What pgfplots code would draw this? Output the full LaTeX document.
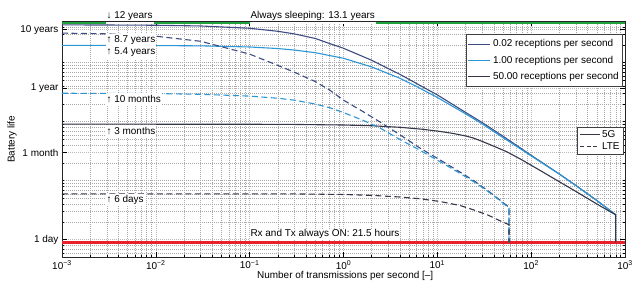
\documentclass[border=0pt]{standalone}
\usepackage{pgfplots}
\pgfplotsset{compat=1.18}
\usepackage{fontspec}
\setmainfont{Liberation Sans}
\definecolor{cnavy}{HTML}{3C4C80}
\definecolor{cblue}{HTML}{2B96D6}
\definecolor{cdark}{HTML}{35374A}
\definecolor{cgreen}{HTML}{1EA33C}
\definecolor{cred}{HTML}{E8202A}
\definecolor{cgrid}{HTML}{A8A8A8}

\begin{document}
\fontsize{10}{11}\selectfont
\begin{tikzpicture}
\begin{axis}[
  at={(0,0)}, anchor=south west,
  scale only axis, width=563bp, height=235.5bp,
  xmode=log, ymode=log,
  xmin=1e-3, xmax=1e3, ymin=0.51, ymax=5000,
  xtick={1e-3,1e-2,1e-1,1,10,100,1000},
  xticklabels={10\textsuperscript{−3},10\textsuperscript{−2},10\textsuperscript{−1},10\textsuperscript{0},10\textsuperscript{1},10\textsuperscript{2},10\textsuperscript{3}},
  minor xtick={2e-3,3e-3,4e-3,5e-3,6e-3,7e-3,8e-3,9e-3,2e-2,3e-2,4e-2,5e-2,6e-2,7e-2,8e-2,9e-2,0.2,0.3,0.4,0.5,0.6,0.7,0.8,0.9,2,3,4,5,6,7,8,9,20,30,40,50,60,70,80,90,200,300,400,500,600,700,800,900},
  ytick={1,30,365,3650},
  yticklabels={1 day,1 month,1 year,10 years},
  minor ytick={0.6,0.7,0.8,0.9,2,3,4,5,6,7,8,9,10,20,30,40,50,60,70,80,90,100,200,300,400,500,600,700,800,900,1000,2000,3000,4000,5000},
  grid=both,
  major grid style={dash pattern=on 0.6bp off 1.4bp, cgrid!110!black, line width=0.5pt},
  minor grid style={dash pattern=on 0.6bp off 1.4bp, cgrid, line width=0.5pt},
  tick align=inside,
  major tick length=5bp, minor tick length=2.5bp,
  every tick/.style={black, line width=0.5pt},
  axis line style={black!85, line width=0.6pt},
  tick label style={font=\fontsize{10}{11}\selectfont},
  xlabel={Number of transmissions per second [–]},
  ylabel={Battery life},
  xlabel style={at={(axis description cs:0.503,-0.081)}, anchor=center, font=\fontsize{10}{11}\selectfont},
  ylabel style={at={(axis description cs:-0.0888,0.5)}, anchor=center, font=\fontsize{10}{11}\selectfont},
  clip=false,
  legend style={at={(0.9965,0.945)}, anchor=north east, draw=black!75, line width=0.6pt, fill=white,
    font=\fontsize{10}{11}\selectfont, row sep=3.5bp, inner xsep=2pt, inner ysep=3pt, cells={anchor=west}},
  legend image code/.code={\draw[#1] (0cm,0cm) -- (0.78cm,0cm);},
]
% limits
\addplot[cgreen, line width=2.2pt, forget plot] coordinates {(1e-3,4785) (1e3,4785)};
\addplot[cred, line width=2.2pt, forget plot] coordinates {(1e-3,0.896) (1e3,0.896)};

% 5G
\addplot[cnavy, line width=1.1pt] coordinates {
(0.001,4380) (0.003,4360) (0.01,4320) (0.03,4200) (0.1,3840) (0.2,3410) (0.3,3080) (0.5,2580)
(0.72,2100) (1,1760) (2,1100) (4,635) (6,445) (10,285) (20,144) (30,97) (50,57) (100,27)
(200,13) (300,8.3) (500,4.65) (796,2.65) (796,0.9)};
\addlegendentry{0.02 receptions per second}
\addplot[cblue, line width=1.1pt] coordinates {
(0.001,1970) (0.01,1957) (0.03,1933) (0.1,1850) (0.2,1740) (0.3,1640) (0.5,1480) (1,1190)
(2,848) (4,545) (6,396) (10,258) (20,136) (30,92) (50,54) (100,26.4) (200,12.9) (300,8.25)
(500,4.62) (796,2.65) (796,0.9)};
\addlegendentry{1.00 receptions per second}
\addplot[cdark, line width=1.1pt] coordinates {
(0.001,91) (0.1,90.7) (0.3,90) (1,88) (2,85.5) (4,80.5) (7,74.5) (10.7,68.5) (15,63) (20,57.5)
(24.2,53) (30,46.5) (40,38.5) (55,31) (80,22.5) (124,15) (200,9.6) (281,7.0) (400,5.0) (550,3.7)
(796,2.65) (796,0.9)};
\addlegendentry{50.00 receptions per second}

% LTE
\addplot[cnavy, line width=1.1pt, dash pattern=on 6bp off 3.5bp, forget plot] coordinates {
(0.001,3178) (0.003,3090) (0.01,2815) (0.03,2310) (0.1,1400) (0.2,900) (0.3,690) (0.5,480)
(0.72,340) (1,232) (1.61,149) (2.5,97) (4,60) (6.5,36) (10.7,22.5) (17.5,14) (25,9.8) (35,6.7)
(45,4.9) (58,3.55) (58,0.9)};
\addplot[cblue, line width=1.1pt, dash pattern=on 6bp off 3.5bp, forget plot] coordinates {
(0.001,304) (0.01,300) (0.03,292) (0.1,272) (0.2,250) (0.3,232) (0.5,200) (0.72,172) (1,143)
(1.61,106) (2.5,77) (4,50) (6.5,33) (10.7,21) (17.5,13.3) (25,9.4) (35,6.5) (45,4.8) (58,3.45) (58,0.9)};
\addplot[cdark, line width=1.1pt, dash pattern=on 6bp off 3.5bp, forget plot] coordinates {
(0.001,6.0) (0.3,5.99) (1,5.85) (2,5.65) (4,5.3) (6.5,4.95) (10.7,4.45) (17.5,3.8) (24.2,3.22)
(35,2.6) (45,2.15) (58,1.8) (58,0.9)};

% annotations
\tikzset{lab/.style={fill=white, inner xsep=1pt, inner ysep=0pt, font=\fontsize{10}{11}\selectfont}}
\node[lab, anchor=west, minimum height=16bp] at (axis cs:0.0029,6265) {↓ 12 years};
\node[lab, anchor=center, minimum height=16bp] at (axis cs:0.47,6265) {Always sleeping: 13.1 years};
\node[lab, anchor=west, minimum height=13bp] at (axis cs:0.0029,2405) {↑ 8.7 years};
\node[lab, anchor=west, minimum height=13bp] at (axis cs:0.0029,1496) {↑ 5.4 years};
\node[lab, anchor=west, minimum height=12bp] at (axis cs:0.0029,240) {↑ 10 months};
\node[lab, anchor=west, minimum height=12bp] at (axis cs:0.0029,68.5) {↑ 3 months};
\node[lab, anchor=west, minimum height=11bp] at (axis cs:0.0029,4.76) {↑ 6 days};
\node[lab, anchor=center, minimum height=11bp] at (axis cs:0.635,1.24) {Rx and Tx always ON: 21.5 hours};
\draw[black!85, line width=0.6pt] (rel axis cs:0,1) -- (rel axis cs:1,1);
\end{axis}

\begin{axis}[
  at={(0,0)}, anchor=south west,
  scale only axis, width=563bp, height=235.5bp,
  hide axis, xmin=0, xmax=1, ymin=0, ymax=1,
  legend style={at={(0.998,0.552)}, anchor=north east, draw=black!75, line width=0.6pt, fill=white,
    font=\fontsize{10}{11}\selectfont, row sep=0bp, inner xsep=2pt, inner ysep=1pt, cells={anchor=west}},
  legend image code/.code={\draw[#1] (0cm,0cm) -- (0.68cm,0cm);},
]
\addlegendimage{cdark, line width=1.1pt}
\addlegendentry{5G}
\addlegendimage{cdark, line width=1.1pt, dash pattern=on 4bp off 2.5bp}
\addlegendentry{LTE}
\end{axis}
\pgfresetboundingbox
\path[use as bounding box] (-62bp,-27bp) rectangle (572bp,257bp);
\end{tikzpicture}
\end{document}
